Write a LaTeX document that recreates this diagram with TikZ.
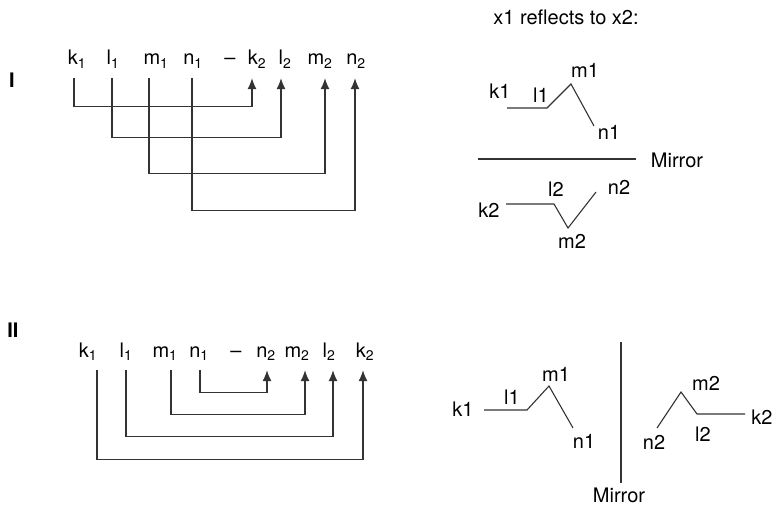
\documentclass[tikz,border=0pt]{standalone}
\usepackage{fontspec}
\setmainfont{TeX Gyre Heros}
\usetikzlibrary{arrows.meta,positioning}
\definecolor{inkgray}{HTML}{333333}
\newcommand{\labelsize}{\fontsize{20}{24}\selectfont}

\begin{document}
\begin{tikzpicture}[x=1pt, y=-1pt, >={Latex[length=11pt,width=9pt]},
  every node/.style={font=\labelsize},
  seq/.style={anchor=base, inner xsep=0pt, inner ysep=13pt, text depth=0pt},
  link/.style={->, line width=1.1pt, inkgray},
  chain/.style={line width=1.1pt, inkgray},
  panel/.style={font=\bfseries\labelsize}]
  \useasboundingbox (0,0) rectangle (773,505);

  % case I: k1 l1 m1 n1 - k2 l2 m2 n2
  \node[panel] (caseI) at (12,80) {I};
  \node[seq] (k1) at (77,65) {k\textsubscript{1}};
  \node[seq] (l1) at (113,65) {l\textsubscript{1}};
  \node[seq] (m1) at (156,65) {m\textsubscript{1}};
  \node[seq] (n1) at (193,65) {n\textsubscript{1}};
  \node[seq] (sepI) at (230,65) {--};
  \node[seq] (k2) at (257,65) {k\textsubscript{2}};
  \node[seq] (l2) at (285,65) {l\textsubscript{2}};
  \node[seq] (m2) at (320,65) {m\textsubscript{2}};
  \node[seq] (n2) at (356,65) {n\textsubscript{2}};

  \draw[link] ([xshift=-3pt]k1.south) -- ++(0,28) -| ([xshift=-5pt]k2.south);
  \draw[link] ([xshift=-1pt]l1.south) -- ++(0,59) -| ([xshift=-4pt]l2.south);
  \draw[link] ([xshift=-7pt]m1.south) -- ++(0,95) -| ([xshift=5pt]m2.south);
  \draw[link] ([xshift=-1pt]n1.south) -- ++(0,132) -| ([xshift=-1pt]n2.south);

  % mirror in the plane
  \node (titleI) at (566,17) {x1 reflects to x2:};
  \node (ak1) at (500,91) {k1};
  \node (al1) at (541,95) {l1};
  \node (am1) at (585,70) {m1};
  \node (an1) at (609,132) {n1};
  \draw[chain] (507,108) -- (547,108) -- (571,84) -- (594,126);
  \draw[chain] (478,159) -- (636,159);
  \node (mirrorI) at (677,160) {Mirror};
  \node (ak2) at (489,210) {k2};
  \node (al2) at (556,189) {l2};
  \node (am2) at (572,241) {m2};
  \node (an2) at (619,187) {n2};
  \draw[chain] (506,204) -- (554,204) -- (568,228) -- (596,192);

  % case II: k1 l1 m1 n1 - n2 m2 l2 k2
  \node[panel] (caseII) at (13,330) {II};
  \node[seq] (p1) at (88,357) {k\textsubscript{1}};
  \node[seq] (q1) at (126,357) {l\textsubscript{1}};
  \node[seq] (r1) at (165,357) {m\textsubscript{1}};
  \node[seq] (s1) at (199,357) {n\textsubscript{1}};
  \node[seq] (sepII) at (236,357) {--};
  \node[seq] (s2) at (266,357) {n\textsubscript{2}};
  \node[seq] (r2) at (297,357) {m\textsubscript{2}};
  \node[seq] (q2) at (329,357) {l\textsubscript{2}};
  \node[seq] (p2) at (365,357) {k\textsubscript{2}};

  \draw[link] ([xshift=1pt]s1.south) -- ++(0,22) -| ([xshift=1pt]s2.south);
  \draw[link] ([xshift=6pt]r1.south) -- ++(0,44) -| ([xshift=8pt]r2.south);
  \draw[link] (q1.south) -- ++(0,66) -| ([xshift=4pt]q2.south);
  \draw[link] ([xshift=9pt]p1.south) -- ++(0,89) -| ([xshift=-2pt]p2.south);

  % mirror across the vertical
  \node (bk1) at (463,409) {k1};
  \node (bl1) at (512,397) {l1};
  \node (bm1) at (556,374) {m1};
  \node (bn1) at (584,441) {n1};
  \draw[chain] (484,410) -- (527,410) -- (549,386) -- (573,428);
  \draw[chain] (621,342) -- (621,483);
  \node (mirrorII) at (619,495) {Mirror};
  \node (bn2) at (654,442) {n2};
  \node (bl2) at (703,434) {l2};
  \node (bm2) at (706,383) {m2};
  \node (bk2) at (762,417) {k2};
  \draw[chain] (657,428) -- (681,392) -- (697,414) -- (745,414);
\end{tikzpicture}
\end{document}
